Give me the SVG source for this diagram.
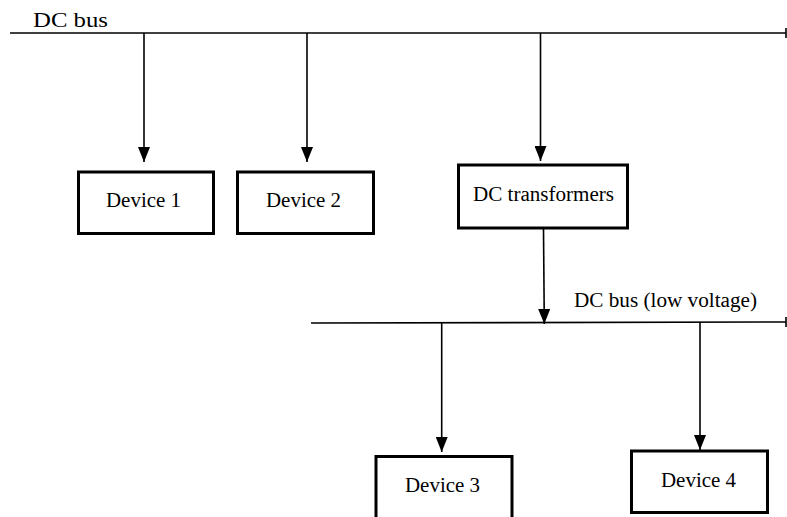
<svg xmlns="http://www.w3.org/2000/svg" width="787" height="517" viewBox="0 0 787 517">
<style>
.bus{stroke:#000;stroke-width:1.6;fill:none}
.conn{stroke:#000;stroke-width:1.6;fill:none}
.box{fill:#fff;stroke:#000;stroke-width:3}
.t{font-family:"Liberation Serif","Times New Roman",serif;font-size:20px;fill:#000}
</style>
<defs>
<marker id="ah" markerWidth="15" markerHeight="12" refX="15" refY="6" orient="auto" markerUnits="userSpaceOnUse">
<path d="M0,0 L15,6 L0,12 z" fill="#000"/>
</marker>
</defs>
<rect width="787" height="517" fill="#fff"/>
<g id="bus-top">
<line class="bus" x1="10" y1="33" x2="786" y2="33"/>
<line class="bus" x1="786" y1="28" x2="786" y2="38"/>
<text class="t" x="33" y="26.5" style="font-size:21px" textLength="75" lengthAdjust="spacingAndGlyphs">DC bus</text>
</g>
<g id="bus-low">
<line class="bus" x1="311" y1="323" x2="786" y2="322"/>
<line class="bus" x1="786" y1="317" x2="786" y2="327"/>
<text class="t" x="574" y="306.5" textLength="183" lengthAdjust="spacingAndGlyphs">DC bus (low voltage)</text>
</g>
<g id="connectors">
<line class="conn" x1="144" y1="33" x2="144" y2="162" marker-end="url(#ah)"/>
<line class="conn" x1="307" y1="33" x2="307" y2="162" marker-end="url(#ah)"/>
<line class="conn" x1="540.5" y1="33" x2="540.5" y2="161" marker-end="url(#ah)"/>
<line class="conn" x1="543.5" y1="229" x2="544.3" y2="324" marker-end="url(#ah)"/>
<line class="conn" x1="441.7" y1="323" x2="441.7" y2="452" marker-end="url(#ah)"/>
<line class="conn" x1="700" y1="322" x2="700" y2="450" marker-end="url(#ah)"/>
</g>
<g id="device1">
<rect class="box" x="78.5" y="172" width="135" height="61.5"/>
<text class="t" x="106" y="207" textLength="75" lengthAdjust="spacingAndGlyphs">Device 1</text>
</g>
<g id="device2">
<rect class="box" x="237.5" y="172" width="136" height="61.5"/>
<text class="t" x="266" y="207" textLength="75" lengthAdjust="spacingAndGlyphs">Device 2</text>
</g>
<g id="dc-transformers">
<rect class="box" x="458.5" y="165" width="169" height="63"/>
<text class="t" x="473" y="201" textLength="141" lengthAdjust="spacingAndGlyphs">DC transformers</text>
</g>
<g id="device3">
<rect class="box" x="376" y="456.5" width="136" height="70"/>
<text class="t" x="405" y="492" textLength="75" lengthAdjust="spacingAndGlyphs">Device 3</text>
</g>
<g id="device4">
<rect class="box" x="631.5" y="451" width="136" height="61.5"/>
<text class="t" x="661" y="487" textLength="75" lengthAdjust="spacingAndGlyphs">Device 4</text>
</g>
</svg>
